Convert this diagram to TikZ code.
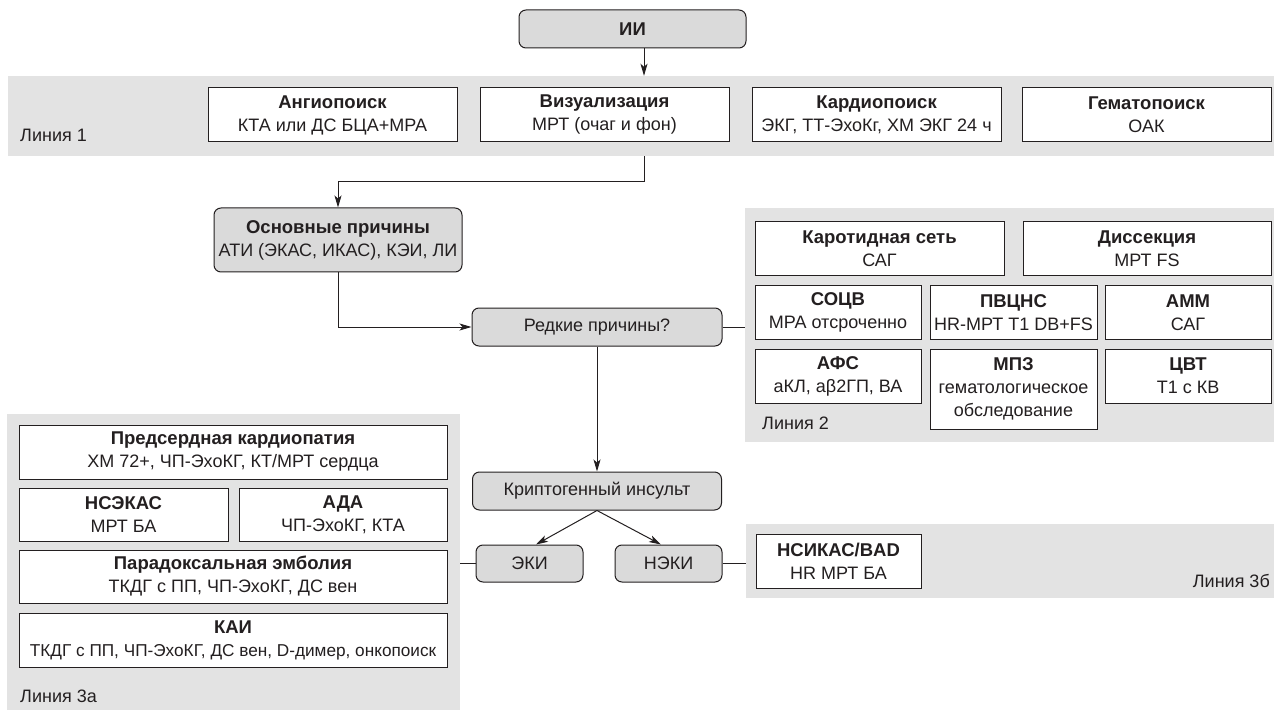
\documentclass[tikz,border=0pt]{standalone}
\usepackage{fontspec}
\setmainfont{Liberation Sans}
\usepackage{xcolor}
\usepackage{tikz}
\usetikzlibrary{arrows.meta}
\definecolor{ink}{HTML}{231F20}
\definecolor{panel}{HTML}{E3E3E3}
\definecolor{pillgray}{HTML}{DADADA}
\tikzset{
  band/.style={fill=panel, draw=none, inner sep=0pt},
  card/.style={draw=ink, fill=white, line width=1pt, align=center, inner sep=1pt, text=ink},
  pill/.style={draw=ink, fill=pillgray, line width=1pt, rounded corners=7pt, align=center, inner sep=1pt, text=ink},
  link/.style={draw=ink, line width=1pt},
  arr/.style={-{Stealth[length=12pt,width=7pt,inset=3pt]}, draw=ink, line width=1pt},
  tag/.style={text=ink, inner sep=0pt}
}
\newcommand{\Head}[1]{{\fontsize{18.5pt}{23pt}\selectfont\bfseries #1}}
\newcommand{\TwoLine}[2]{\Head{#1}\\#2}

\begin{document}
\begin{tikzpicture}[x=1pt, y=-1pt, every node/.append style={font=\fontsize{18pt}{23pt}\selectfont}]
  \useasboundingbox (0,0) rectangle (1274,711);
  % grey bands of the search lines
  \node[band, minimum width=1266pt, minimum height=80pt] (line1) at (641,116) {};
  \node[band, minimum width=529pt, minimum height=234pt] (line2) at (1009.5,325) {};
  \node[band, minimum width=453pt, minimum height=296pt] (line3a) at (233.5,562) {};
  \node[band, minimum width=528pt, minimum height=74pt] (line3b) at (1010,561) {};
  \node[tag, anchor=base west] (lab1) at (20,142) {Линия 1};
  \node[tag, anchor=base west] (lab2) at (762,429) {Линия 2};
  \node[tag, anchor=base west] (lab3a) at (20,702) {Линия 3а};
  \node[tag, anchor=base east] (lab3b) at (1270,587) {Линия 3б};

  % line 1
  \node[pill, minimum width=227pt, minimum height=38pt] (ii) at (632.5,29) {\Head{ИИ}};
  \node[card, minimum width=249pt, minimum height=54pt] (angio) at (332.5,115) {\TwoLine{Ангиопоиск}{КТА или ДС БЦА+МРА}};
  \node[card, minimum width=249pt, minimum height=54pt] (viz) at (604.5,115) {\TwoLine{Визуализация}{МРТ (очаг и фон)}};
  \node[card, minimum width=249pt, minimum height=54pt] (cardio) at (876.5,115) {\TwoLine{Кардиопоиск}{ЭКГ, ТТ-ЭхоКг, ХМ ЭКГ 24 ч}};
  \node[card, minimum width=249pt, minimum height=54pt] (hemato) at (1146.5,115) {\TwoLine{Гематопоиск}{ОАК}};
  \coordinate (turn) at (644,182);
  \draw[arr] ([xshift=11.5pt]ii.south) -- ([xshift=11.5pt]ii.south |- line1.north);

  % main flow
  \node[pill, minimum width=248pt, minimum height=64pt] (main) at (338,240) {\TwoLine{Основные причины}{АТИ (ЭКАС, ИКАС), КЭИ, ЛИ}};
  \node[pill, minimum width=250pt, minimum height=38pt] (rare) at (597,327) {Редкие причины?};
  \node[pill, minimum width=249pt, minimum height=38pt] (krypt) at (597,491) {Криптогенный инсульт};
  \node[pill, minimum width=107pt, minimum height=37pt] (eki) at (529.5,563.5) {ЭКИ};
  \node[pill, minimum width=107pt, minimum height=37pt] (neki) at (668.5,563.5) {НЭКИ};
  \draw[arr] (turn |- line1.south) -- (turn) -| (main.north);
  \draw[arr] (main.south) |- (rare.west);
  \draw[link] (rare.east) -- (rare.east -| line2.west);
  \draw[arr] (rare.south) -- (krypt.north);
  \draw[arr] (krypt.south) -- ([xshift=6.5pt]eki.north);
  \draw[arr] (krypt.south) -- ([xshift=-7.5pt]neki.north);
  \draw[link] (eki.west) -- (eki.west -| line3a.east);
  \draw[link] (neki.east) -- (neki.east -| line3b.west);

  % line 2
  \node[card, minimum width=249pt, minimum height=54pt] (carot) at (879.5,249) {\TwoLine{Каротидная сеть}{САГ}};
  \node[card, minimum width=248pt, minimum height=54pt] (dissec) at (1147,249) {\TwoLine{Диссекция}{МРТ FS}};
  \node[card, minimum width=166pt, minimum height=53pt] (socv) at (838,312.5) {\TwoLine{СОЦВ}{МРА отсроченно}};
  \node[card, minimum width=167pt, minimum height=53pt] (pvcns) at (1013.5,312.5) {\TwoLine{ПВЦНС}{HR-МРТ Т1 DB+FS}};
  \node[card, minimum width=166pt, minimum height=53pt] (amm) at (1188,312.5) {\TwoLine{АММ}{САГ}};
  \node[card, minimum width=166pt, minimum height=54pt] (afs) at (838,376) {\TwoLine{АФС}{аКЛ, аβ2ГП, ВА}};
  \node[card, minimum width=167pt, minimum height=80pt] (mpz) at (1013.5,389) {\Head{МПЗ}\\гематологическое\\обследование};
  \node[card, minimum width=166pt, minimum height=54pt] (cvt) at (1188,376) {\TwoLine{ЦВТ}{Т1 с КВ}};

  % line 3a and 3b
  \node[card, minimum width=428pt, minimum height=54pt] (atrial) at (233,452) {\TwoLine{Предсердная кардиопатия}{ХМ 72+, ЧП-ЭхоКГ, КТ/МРТ сердца}};
  \node[card, minimum width=209pt, minimum height=53pt] (nsekas) at (123.5,514.5) {\TwoLine{НСЭКАС}{МРТ БА}};
  \node[card, minimum width=208pt, minimum height=53pt] (ada) at (343,514.5) {\TwoLine{АДА}{ЧП-ЭхоКГ, КТА}};
  \node[card, minimum width=428pt, minimum height=53pt] (parad) at (233,576.5) {\TwoLine{Парадоксальная эмболия}{ТКДГ с ПП, ЧП-ЭхоКГ, ДС вен}};
  \node[card, minimum width=428pt, minimum height=54pt] (kai) at (233,640) {\TwoLine{КАИ}{\fontsize{17.2pt}{23pt}\selectfont ТКДГ с ПП, ЧП-ЭхоКГ, ДС вен, D-димер, онкопоиск}};
  \node[card, minimum width=165pt, minimum height=54pt] (nsikas) at (838.5,561) {\TwoLine{НСИКАС/BAD}{HR МРТ БА}};
\end{tikzpicture}
\end{document}
